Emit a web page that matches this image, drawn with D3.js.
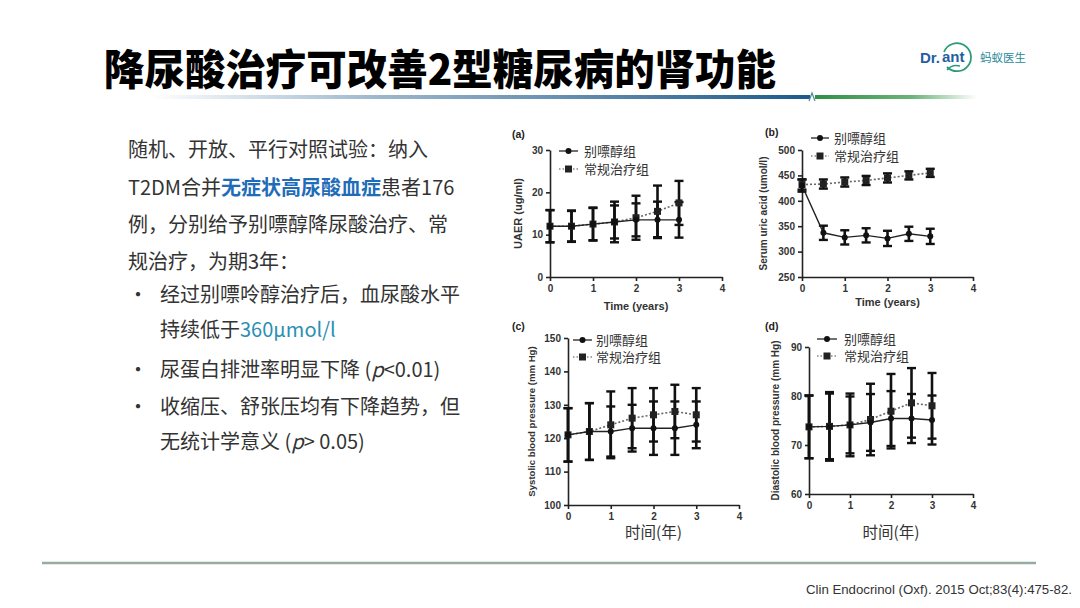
<!DOCTYPE html>
<html><head><meta charset="utf-8">
<script src="https://cdn.jsdelivr.net/npm/d3@7"></script>
<style>
html,body{margin:0;padding:0;background:#fff;}
svg{display:block;}
</style></head>
<body>
<svg id="c" width="1080" height="608"></svg>
<script>
// ---------------- data ----------------
const years = [0, 0.5, 1, 1.5, 2, 2.5, 3];
const seriesNames = ["别嘌醇组", "常规治疗组"];
const xTicks = [0, 1, 2, 3, 4];

const uaerAllo = [12, 12, 12.5, 13, 13.5, 13.5, 13.5];
const uaerAlloSd = [3.8, 3.6, 3.8, 3.9, 3.9, 4.3, 4.2];
const uaerConv = [12, 12, 12.5, 13, 14, 15.5, 17.5];
const uaerConvSd = [3.8, 3.7, 3.9, 4.8, 5.2, 6.1, 5.2];
const uaerTicks = [0, 10, 20, 30];

const suaAllo = [430, 337, 328, 332, 326, 335, 330];
const suaAlloSd = [12, 14, 14, 14, 15, 14, 15];
const suaConv = [432, 433, 437, 440, 445, 450, 455];
const suaConvSd = [10, 9, 9, 9, 9, 8, 8];
const suaTicks = [250, 300, 350, 400, 450, 500];

const sbpAllo = [121, 122, 122, 123, 123, 123, 124];
const sbpAlloSd = [8, 8.5, 7.5, 7, 8, 8, 7];
const sbpConv = [121, 122, 124, 126, 127, 128, 127];
const sbpConvSd = [8, 8.5, 10, 9, 8, 8, 8];
const sbpTicks = [100, 110, 120, 130, 140, 150];

const dbpAllo = [73.7, 73.8, 74.1, 74.6, 75.4, 75.4, 75.1];
const dbpAlloSd = [6.4, 6.7, 5.8, 5.8, 5.6, 5.0, 5.0];
const dbpConv = [73.7, 73.8, 74.1, 75.2, 76.9, 78.6, 78.0];
const dbpConvSd = [6.4, 7.0, 6.4, 7.3, 7.6, 7.1, 6.7];
const dbpTicks = [60, 70, 80, 90];

const titleText = "降尿酸治疗可改善2型糖尿病的肾功能";
const citation = "Clin Endocrinol (Oxf). 2015 Oct;83(4):475-82.";

// ---------------- drawing ----------------
const svg = d3.select("#c");
const defs = svg.append("defs");

// Title
svg.append("text").attr("x", 104).attr("y", 85)
  .attr("font-family", "Noto Sans CJK SC").attr("font-weight", 900)
  .attr("font-size", 42).attr("fill", "#000")
  .attr("textLength", 672).attr("lengthAdjust", "spacingAndGlyphs")
  .text(titleText);

// gradient rule under title
const g1 = defs.append("linearGradient").attr("id", "gBlue").attr("x1", "0").attr("x2", "1");
g1.append("stop").attr("offset", "0").attr("stop-color", "#ffffff");
g1.append("stop").attr("offset", "0.35").attr("stop-color", "#9bb6cc");
g1.append("stop").attr("offset", "1").attr("stop-color", "#1c5a8c");
const g2 = defs.append("linearGradient").attr("id", "gGreen").attr("x1", "0").attr("x2", "1");
g2.append("stop").attr("offset", "0").attr("stop-color", "#2f8f45");
g2.append("stop").attr("offset", "0.6").attr("stop-color", "#6cb47a");
g2.append("stop").attr("offset", "1").attr("stop-color", "#ffffff");
svg.append("rect").attr("x", 150).attr("y", 95).attr("width", 660).attr("height", 4).attr("fill", "url(#gBlue)");
svg.append("rect").attr("x", 815).attr("y", 95).attr("width", 162).attr("height", 4).attr("fill", "url(#gGreen)");
svg.append("path").attr("d", "M809,101 L812,93 L815,101").attr("fill", "none").attr("stroke", "#4a8a9a").attr("stroke-width", 1.2);

// logo
svg.append("text").attr("x", 920).attr("y", 63).attr("font-family", "Liberation Sans").attr("font-weight", "bold")
  .attr("font-size", 15).attr("fill", "#1f5fa0").text("Dr.");
svg.append("path").attr("d", "M944,52 A14,14 0 1,1 947,67").attr("fill", "none")
  .attr("stroke", "#2a9a7a").attr("stroke-width", 1.8);
svg.append("path").attr("d", "M947,70 Q952,64 960,66").attr("fill", "none")
  .attr("stroke", "#2a9a7a").attr("stroke-width", 1.4);
svg.append("text").attr("x", 942).attr("y", 62).attr("font-family", "Liberation Sans").attr("font-weight", "bold")
  .attr("font-size", 15).attr("fill", "#1f5fa0").text("ant");
svg.append("text").attr("x", 980).attr("y", 62).attr("font-family", "Noto Sans CJK SC")
  .attr("font-size", 11.5).attr("fill", "#2a8a9a").text("蚂蚁医生");

// left text
const txt = svg.append("g").attr("font-family", "Noto Sans CJK SC").attr("font-size", 20).attr("fill", "#333");
function line(x, y, parts) {
  const t = txt.append("text").attr("x", x).attr("y", y);
  parts.forEach(p => {
    const s = t.append("tspan").text(p.t);
    if (p.c) s.attr("fill", p.c);
    if (p.b) s.attr("font-weight", "bold");
    if (p.i) s.attr("font-style", "italic");
  });
}
line(128, 157, [{t: "随机、开放、平行对照试验：纳入"}]);
line(128, 195, [{t: "T2DM合并"}, {t: "无症状高尿酸血症", c: "#1f6cb8", b: true}, {t: "患者176"}]);
line(128, 232, [{t: "例，分别给予别嘌醇降尿酸治疗、常"}]);
line(128, 269, [{t: "规治疗，为期3年："}]);
const bullets = [302, 377, 414];
bullets.forEach(y => txt.append("text").attr("x", 128).attr("y", y).text("•"));
line(160, 302, [{t: "经过别嘌呤醇治疗后，血尿酸水平"}]);
line(160, 337, [{t: "持续低于"}, {t: "360μmol/l", c: "#2b8fb2"}]);
line(160, 377, [{t: "尿蛋白排泄率明显下降 ("}, {t: "p", i: true}, {t: "<0.01)"}]);
line(160, 414, [{t: "收缩压、舒张压均有下降趋势，但"}]);
line(160, 449, [{t: "无统计学意义 ("}, {t: "p", i: true}, {t: "> 0.05)"}]);

// footer
svg.append("line").attr("x1", 42).attr("x2", 1036).attr("y1", 563).attr("y2", 563)
  .attr("stroke", "#98aba0").attr("stroke-width", 2.5);
svg.append("text").attr("x", 1072).attr("y", 594).attr("text-anchor", "end")
  .attr("font-family", "Liberation Sans Narrow, Liberation Sans").attr("font-size", 12.5).attr("fill", "#333")
  .attr("textLength", 266).attr("lengthAdjust", "spacingAndGlyphs").text(citation);

// ---------------- panels ----------------
const panels = [
  {lab: "(a)", labPos: [512, 138], x: [550, 722], y: [277, 150], dom: [0, 30], ticks: uaerTicks,
   allo: uaerAllo, alloSd: uaerAlloSd, conv: uaerConv, convSd: uaerConvSd,
   ylab: "UAER (ug/ml)", ylabX: 522, ylabSize: 11, xlab: "Time (years)", xlabY: 310, xlabSize: 11, xlabBold: true,
   leg: [559, 578, 584, 151, 169]},
  {lab: "(b)", labPos: [765, 136], x: [802, 973], y: [277, 150], dom: [250, 500], ticks: suaTicks,
   allo: suaAllo, alloSd: suaAlloSd, conv: suaConv, convSd: suaConvSd,
   ylab: "Serum uric acid (umol/l)", ylabX: 767, ylabSize: 10, xlab: "Time (years)", xlabY: 306, xlabSize: 11, xlabBold: true,
   leg: [811, 829, 834, 138, 156]},
  {lab: "(c)", labPos: [512, 330], x: [568, 739], y: [505, 338], dom: [100, 150], ticks: sbpTicks,
   allo: sbpAllo, alloSd: sbpAlloSd, conv: sbpConv, convSd: sbpConvSd,
   ylab: "Systolic blood pressure (mm Hg)", ylabX: 535, ylabSize: 9.6, xlab: "时间(年)", xlabY: 538, xlabSize: 15.5, xlabBold: false,
   leg: [573, 592, 596, 340, 357]},
  {lab: "(d)", labPos: [765, 330], x: [809, 973], y: [494, 347], dom: [60, 90], ticks: dbpTicks,
   allo: dbpAllo, alloSd: dbpAlloSd, conv: dbpConv, convSd: dbpConvSd,
   ylab: "Diastolic blood pressure (mm Hg)", ylabX: 779, ylabSize: 10, xlab: "时间(年)", xlabY: 538, xlabSize: 15.5, xlabBold: false,
   leg: [817, 837, 844, 339, 356]}
];

panels.forEach(p => {
  const g = svg.append("g");
  const xs = d3.scaleLinear().domain([0, 4]).range(p.x);
  const ys = d3.scaleLinear().domain(p.dom).range(p.y);

  g.append("text").attr("x", p.labPos[0]).attr("y", p.labPos[1]).attr("font-family", "Liberation Sans")
    .attr("font-weight", "bold").attr("font-size", 10.5).attr("fill", "#222").text(p.lab);

  const yAxis = g.append("g").attr("transform", `translate(${p.x[0]},0)`)
    .call(d3.axisLeft(ys).tickValues(p.ticks).tickFormat(d3.format("d")).tickSize(4).tickSizeOuter(0));
  const xAxis = g.append("g").attr("transform", `translate(0,${p.y[0]})`)
    .call(d3.axisBottom(xs).tickValues(xTicks).tickFormat(d3.format("d")).tickSize(4).tickPadding(4).tickSizeOuter(0));
  [yAxis, xAxis].forEach(a => {
    a.select(".domain").attr("stroke", "#222").attr("stroke-width", 1.6);
    a.selectAll(".tick line").attr("stroke", "#222").attr("stroke-width", 1.6);
    a.selectAll(".tick text").attr("font-family", "Liberation Sans").attr("font-weight", "bold")
      .attr("font-size", 10).attr("fill", "#333");
  });

  const cx = (p.x[0] + p.x[1]) / 2;
  g.append("text").attr("x", cx).attr("y", p.xlabY).attr("text-anchor", "middle")
    .attr("font-family", p.xlabBold ? "Liberation Sans" : "Noto Sans CJK SC")
    .attr("font-weight", p.xlabBold ? "bold" : "normal").attr("font-size", p.xlabSize).attr("fill", "#333").text(p.xlab);
  const cy = (p.y[0] + p.y[1]) / 2;
  g.append("text").attr("transform", `translate(${p.ylabX},${cy}) rotate(-90)`).attr("text-anchor", "middle")
    .attr("font-family", "Liberation Sans").attr("font-weight", "bold").attr("font-size", p.ylabSize)
    .attr("fill", "#333").text(p.ylab);

  // error bars
  function errs(vals, sds) {
    years.forEach((t, i) => {
      const xx = xs(t), hi = ys(vals[i] + sds[i]), lo = ys(vals[i] - sds[i]);
      g.append("line").attr("x1", xx).attr("x2", xx).attr("y1", hi).attr("y2", lo)
        .attr("stroke", "#111").attr("stroke-width", 2.6);
      [hi, lo].forEach(yy => g.append("line").attr("x1", xx - 4.5).attr("x2", xx + 4.5)
        .attr("y1", yy).attr("y2", yy).attr("stroke", "#111").attr("stroke-width", 2.4));
    });
  }
  errs(p.conv, p.convSd);
  errs(p.allo, p.alloSd);

  const ln = d3.line().x((d, i) => xs(years[i])).y(d => ys(d));
  g.append("path").attr("d", ln(p.conv)).attr("fill", "none").attr("stroke", "#666")
    .attr("stroke-width", 1.6).attr("stroke-dasharray", "2,2");
  g.append("path").attr("d", ln(p.allo)).attr("fill", "none").attr("stroke", "#222").attr("stroke-width", 1.4);
  p.conv.forEach((v, i) => g.append("rect").attr("x", xs(years[i]) - 3.5).attr("y", ys(v) - 3.5)
    .attr("width", 7).attr("height", 7).attr("fill", "#222"));
  p.allo.forEach((v, i) => g.append("circle").attr("cx", xs(years[i])).attr("cy", ys(v)).attr("r", 3).attr("fill", "#111"));

  // legend
  const [lx0, lx1, tx, r1, r2] = p.leg;
  const mx = (lx0 + lx1) / 2;
  g.append("line").attr("x1", lx0).attr("x2", lx1).attr("y1", r1).attr("y2", r1).attr("stroke", "#222").attr("stroke-width", 1.3);
  g.append("circle").attr("cx", mx).attr("cy", r1).attr("r", 3).attr("fill", "#111");
  g.append("line").attr("x1", lx0).attr("x2", lx1).attr("y1", r2).attr("y2", r2).attr("stroke", "#888")
    .attr("stroke-width", 1.3).attr("stroke-dasharray", "1.5,2");
  g.append("rect").attr("x", mx - 3.5).attr("y", r2 - 3.5).attr("width", 7).attr("height", 7).attr("fill", "#222");
  [r1, r2].forEach((r, i) => g.append("text").attr("x", tx).attr("y", r + 4.5).attr("font-family", "Noto Sans CJK SC")
    .attr("font-size", 13).attr("fill", "#333").text(seriesNames[i]));
});
</script>
</body></html>
